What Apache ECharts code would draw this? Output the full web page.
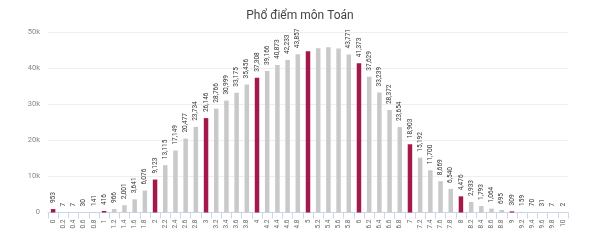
<!DOCTYPE html>
<html>
<head>
<meta charset="utf-8">
<script src="https://cdn.jsdelivr.net/npm/echarts@6/dist/echarts.min.js"></script>
<style>
html,body{margin:0;padding:0;background:#fff;}
#c{width:600px;height:245px;}
</style>
</head>
<body>
<div id="c"></div>
<script>
var categories = ["0","0.2","0.4","0.6","0.8","1","1.2","1.4","1.6","1.8","2","2.2","2.4","2.6","2.8","3","3.2","3.4","3.6","3.8","4","4.2","4.4","4.6","4.8","5","5.2","5.4","5.6","5.8","6","6.2","6.4","6.6","6.8","7","7.2","7.4","7.6","7.8","8","8.2","8.4","8.6","8.8","9","9.2","9.4","9.6","9.8","10"];
var counts = [953,7,7,30,141,416,966,2001,3641,6076,9123,13115,17149,20477,23734,26146,28766,30999,33175,35456,37308,39166,40873,42233,43857,44700,45500,45800,45400,43771,41373,37629,33239,28372,23654,18903,15192,11700,8669,6540,4476,2933,1793,1064,695,309,159,70,31,7,2];
var unlabeled = ["5","5.2","5.4","5.6"];
var yTicks = [0,10000,20000,30000,40000,50000];

var RED = '#A3194B', GRAY = '#C9C9C9';
var data = counts.map(function(v,i){
  var cat = categories[i];
  var isInt = Number(cat) % 1 === 0;
  var item = {value:v, itemStyle:{color: isInt ? RED : GRAY}};
  if (unlabeled.indexOf(cat) >= 0) item.label = {show:false};
  return item;
});

var chart = echarts.init(document.getElementById('c'), null, {renderer:'canvas'});
chart.setOption({
  animation:false,
  backgroundColor:'#fff',
  title:{text:'Phổ điểm môn Toán', left:'center', top:5,
    textStyle:{fontFamily:'Roboto', fontSize:12, fontWeight:'normal', color:'#444'}},
  grid:{left:48, right:32, top:32, bottom:32.5, containLabel:false},
  xAxis:{type:'category', data:categories,
    axisLine:{lineStyle:{color:'#CCD6EB'}},
    axisTick:{show:true, alignWithLabel:false, length:6, lineStyle:{color:'#CCD6EB'}},
    axisLabel:{interval:0, rotate:90, fontSize:6.5, color:'#666', fontFamily:'Roboto', margin:7}},
  yAxis:{type:'value', min:yTicks[0], max:yTicks[yTicks.length-1], interval:10000,
    axisLine:{show:false}, axisTick:{show:false},
    splitLine:{lineStyle:{color:'#EFEFEF'}},
    axisLabel:{fontSize:7.5, color:'#888', fontFamily:'Roboto', margin:8,
      formatter:function(v){return v===0 ? '0' : (v/1000)+'k';}}},
  series:[{type:'bar', data:data, barWidth:4.5,
    label:{show:true, position:'top', rotate:90, align:'left', verticalAlign:'middle',
      distance:6, fontSize:6.5, color:'#333', fontFamily:'Roboto',
      formatter:function(p){return p.value.toLocaleString('en-US');}}}]
});
</script>
</body>
</html>
